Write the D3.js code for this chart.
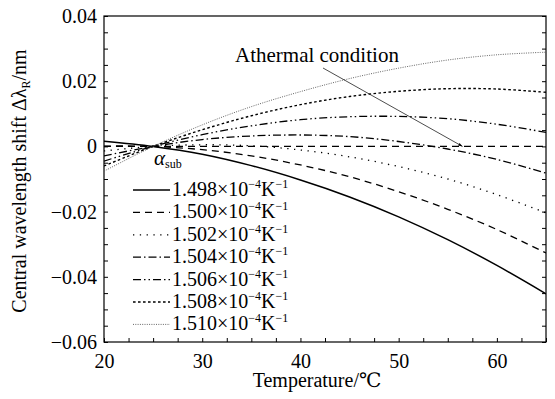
<!DOCTYPE html>
<html>
<head>
<meta charset="utf-8">
<script src="https://cdn.jsdelivr.net/npm/d3@7"></script>
<style>
  body { margin: 0; background: #fff; }
</style>
</head>
<body>
<svg width="555" height="399"></svg>
<script>
const temps = [20, 25, 30, 35, 40, 45, 50, 55, 60, 65];
const alphaLabels = ['1.498', '1.500', '1.502', '1.504', '1.506', '1.508', '1.510'];
const shift1498 = [0.0016, 0, -0.0024, -0.0059, -0.0103, -0.0155, -0.0216, -0.0286, -0.0365, -0.0452];
const shift1500 = [0.0001, 0, -0.0010, -0.0029, -0.0057, -0.0093, -0.0139, -0.0193, -0.0255, -0.0327];
const shift1502 = [-0.0014, 0, 0.0005, 0.0002, -0.0011, -0.0032, -0.0062, -0.0100, -0.0148, -0.0204];
const shift1504 = [-0.0029, 0, 0.0021, 0.0032, 0.0035, 0.0030, 0.0015, -0.0008, -0.0040, -0.0082];
const shift1506 = [-0.0045, 0, 0.0036, 0.0063, 0.0082, 0.0091, 0.0092, 0.0085, 0.0068, 0.0043];
const shift1508 = [-0.0060, 0, 0.0051, 0.0094, 0.0128, 0.0153, 0.0169, 0.0177, 0.0176, 0.0166];
const shift1510 = [-0.0076, 0, 0.0066, 0.0122, 0.0168, 0.0208, 0.0240, 0.0265, 0.0281, 0.0289];
const xTicks = [20, 30, 40, 50, 60];
const yTicks = [-0.06, -0.04, -0.02, 0, 0.02, 0.04];

const seriesValues = [shift1498, shift1500, shift1502, shift1504, shift1506, shift1508, shift1510];
const styles = [
  { dash: null, width: 1.5, color: '#000' },
  { dash: '7,5', width: 1.3, color: '#000' },
  { dash: '1.3,5.5', width: 1.3, color: '#000' },
  { dash: '8,3,1.5,3', width: 1.3, color: '#000' },
  { dash: '8,3,1.5,3,1.5,3', width: 1.3, color: '#000' },
  { dash: '2.6,2.4', width: 1.4, color: '#000' },
  { dash: '1,1.3', width: 0.9, color: '#555' }
];

const serif = '"Liberation Serif", "DejaVu Serif", serif';
const svg = d3.select('svg');
const margin = { top: 16, right: 9, bottom: 57, left: 104 };
const width = +svg.attr('width');
const height = +svg.attr('height');
const innerWidth = width - margin.left - margin.right;
const innerHeight = height - margin.top - margin.bottom;
const fontSize = 20;
const smallSize = 12;

const xScale = d3.scaleLinear().domain([20, 65]).range([0, innerWidth]);
const yScale = d3.scaleLinear().domain([-0.06, 0.04]).range([innerHeight, 0]);

const g = svg.append('g')
  .attr('transform', `translate(${margin.left},${margin.top})`);

g.append('clipPath').attr('id', 'clip')
  .append('rect').attr('width', innerWidth).attr('height', innerHeight);

const fmt = d => d === 0 ? '0' : (d < 0 ? '\u22120' : '0') + d3.format('.2f')(Math.abs(d)).slice(1);

// minor ticks
const xMinor = d3.range(20, 65.01, 2.5);
const yMinor = d3.range(-0.06, 0.0401, 0.005);

const addAxis = (axis, transform, labels) => {
  const a = g.append('g').attr('transform', transform).call(axis);
  a.select('.domain').remove();
  a.selectAll('line').attr('stroke', '#000');
  if (labels) {
    a.selectAll('text').attr('font-size', fontSize).attr('fill', '#000').style('font-family', serif);
  } else {
    a.selectAll('text').remove();
  }
  return a;
};

addAxis(d3.axisBottom(xScale).tickValues(xMinor).tickSize(-4), `translate(0,${innerHeight})`, false);
addAxis(d3.axisLeft(yScale).tickValues(yMinor).tickSize(-4), 'translate(0,0)', false);
addAxis(d3.axisRight(yScale).tickValues(yMinor).tickSize(-4), `translate(${innerWidth},0)`, false);
addAxis(d3.axisBottom(xScale).tickValues(xTicks).tickSize(0).tickPadding(12).tickFormat(d3.format('d')), `translate(0,${innerHeight})`, true);
addAxis(d3.axisLeft(yScale).tickValues(yTicks).tickSize(0).tickPadding(7).tickFormat(fmt), 'translate(0,0)', true);

g.append('rect')
  .attr('width', innerWidth).attr('height', innerHeight)
  .attr('fill', 'none').attr('stroke', '#000').attr('stroke-width', 1.2);

// zero reference line
g.append('line')
  .attr('x1', 0).attr('x2', innerWidth)
  .attr('y1', yScale(0)).attr('y2', yScale(0))
  .attr('stroke', '#000').attr('stroke-width', 1.3).attr('stroke-dasharray', '7,5');

const line = d3.line()
  .x((d, i) => xScale(temps[i]))
  .y(d => yScale(d))
  .curve(d3.curveCatmullRom.alpha(0.5));

g.append('g').attr('clip-path', 'url(#clip)')
  .selectAll('path').data(seriesValues).enter().append('path')
    .attr('d', line)
    .attr('fill', 'none')
    .attr('stroke', (d, i) => styles[i].color)
    .attr('stroke-width', (d, i) => styles[i].width)
    .attr('stroke-dasharray', (d, i) => styles[i].dash);

// legend
const legend = svg.append('g');
legend.append('text')
  .attr('x', 154).attr('y', 165).attr('font-size', 21).style('font-family', serif)
  .call(t => {
    t.append('tspan').attr('font-style', 'italic').text('\u03b1');
    t.append('tspan').attr('font-size', smallSize).attr('dy', 3).text('sub');
  });

alphaLabels.forEach((lab, i) => {
  const y = 190 + i * 22.4;
  legend.append('line')
    .attr('x1', 133).attr('x2', 170).attr('y1', y).attr('y2', y)
    .attr('stroke', styles[i].color)
    .attr('stroke-width', styles[i].width)
    .attr('stroke-dasharray', styles[i].dash);
  const t = legend.append('text').attr('x', 172).attr('y', y + 6)
    .attr('font-size', fontSize).style('font-family', serif);
  t.append('tspan').text(lab + '\u00d710');
  t.append('tspan').attr('font-size', smallSize).attr('dy', -8).text('\u22124');
  t.append('tspan').attr('dy', 8).text('K');
  t.append('tspan').attr('font-size', smallSize).attr('dy', -8).text('\u22121');
});

// annotation
svg.append('defs').append('marker')
  .attr('id', 'arrow').attr('viewBox', '0 0 10 10')
  .attr('refX', 10).attr('refY', 5)
  .attr('markerWidth', 9).attr('markerHeight', 6)
  .attr('orient', 'auto')
  .append('path').attr('d', 'M0,1.5L10,5L0,8.5z').attr('fill', '#000');

svg.append('text')
  .attr('x', 235).attr('y', 62).attr('font-size', 21).style('font-family', serif)
  .text('Athermal condition');

svg.append('line')
  .attr('x1', 323).attr('y1', 68)
  .attr('x2', xScale(56.5) + margin.left).attr('y2', yScale(0) + margin.top)
  .attr('stroke', '#000').attr('stroke-width', 0.7)
  .attr('marker-end', 'url(#arrow)');

// axis labels
svg.append('text')
  .attr('x', 317).attr('y', 387)
  .attr('text-anchor', 'middle').attr('font-size', fontSize).style('font-family', serif)
  .text('Temperature/\u2103');

const yl = svg.append('text')
  .attr('transform', `translate(26,${margin.top + innerHeight / 2 + 2}) rotate(-90)`)
  .attr('text-anchor', 'middle').attr('font-size', fontSize).style('font-family', serif);
yl.append('tspan').text('Central wavelength shift \u0394\u03bb');
yl.append('tspan').attr('font-size', smallSize).attr('dy', 4).text('R');
yl.append('tspan').attr('dy', -4).text('/nm');
</script>
</body>
</html>
